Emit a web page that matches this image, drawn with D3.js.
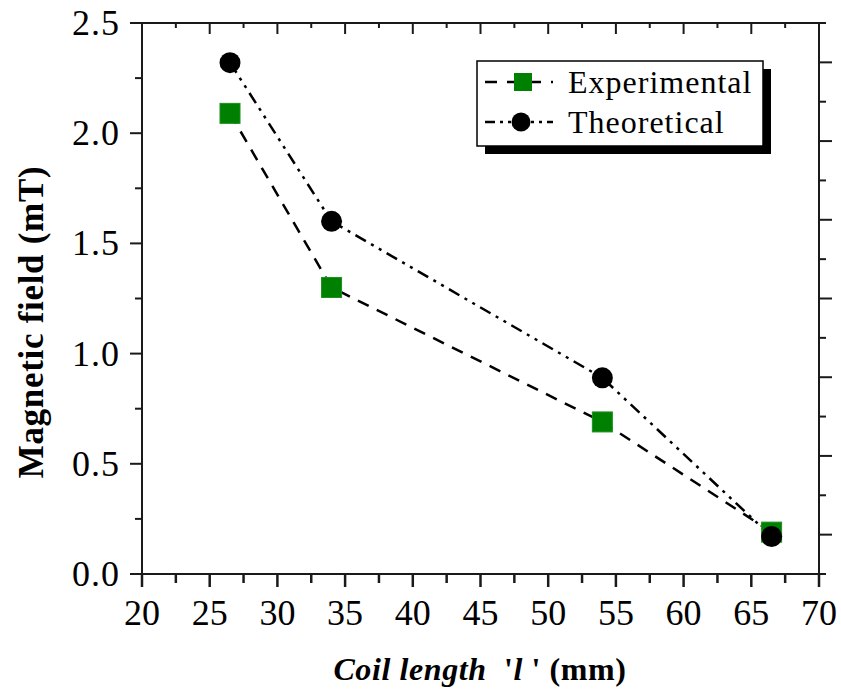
<!DOCTYPE html>
<html>
<head>
<meta charset="utf-8">
<script src="https://cdn.jsdelivr.net/npm/d3@7/dist/d3.min.js"></script>
<style>
html,body{margin:0;padding:0;background:#fff;}
svg{display:block;}
text{font-family:"Liberation Serif","Times New Roman",serif;fill:#000;}
</style>
</head>
<body>
<svg id="chart" width="841" height="694"></svg>
<script>
// ---- data ----
const coilLength = [26.5, 34, 54, 66.5];
const experimental = [2.09, 1.30, 0.69, 0.19];
const theoretical = [2.32, 1.60, 0.89, 0.17];
const seriesNames = ["Experimental", "Theoretical"];
const xTicks = [20, 25, 30, 35, 40, 45, 50, 55, 60, 65, 70];
const yTicks = [0.0, 0.5, 1.0, 1.5, 2.0, 2.5];
const xLabelParts = ["Coil length", "  '", "l", " ' (mm)"];
const yLabel = "Magnetic field (mT)";

const svg = d3.select("#chart");
const L = 142, R = 819, T = 23, B = 574;
const x = d3.scaleLinear().domain([20, 70]).range([L, R]);
const y = d3.scaleLinear().domain([0, 2.5]).range([B, T]);
const yRight = d3.scaleLinear().domain([0, 14]).range([B, T]);

const axisColor = "#1a1a1a";

const xMinor = d3.range(22.5, 70, 5);
const yMinor = d3.range(0.25, 2.5, 0.5);

// ---- bottom axis ----
const gB = svg.append("g");
gB.selectAll("line.maj").data(xTicks).join("line")
  .attr("x1", d => x(d)).attr("x2", d => x(d))
  .attr("y1", B).attr("y2", B + 13)
  .attr("stroke", axisColor).attr("stroke-width", 2.5);
gB.selectAll("line.min").data(xMinor).join("line")
  .attr("x1", d => x(d)).attr("x2", d => x(d))
  .attr("y1", B).attr("y2", B + 9)
  .attr("stroke", axisColor).attr("stroke-width", 2.5);
gB.selectAll("text").data(xTicks).join("text")
  .attr("x", d => x(d)).attr("y", B + 51)
  .attr("text-anchor", "middle").attr("font-size", 36)
  .text(d => d);

// ---- top axis (inward) ----
const gT = svg.append("g");
gT.selectAll("line.maj").data(xTicks.slice(1, -1)).join("line")
  .attr("x1", d => x(d)).attr("x2", d => x(d))
  .attr("y1", T).attr("y2", T + 11)
  .attr("stroke", axisColor).attr("stroke-width", 2);
gT.selectAll("line.min").data(xMinor).join("line")
  .attr("x1", d => x(d)).attr("x2", d => x(d))
  .attr("y1", T).attr("y2", T + 5)
  .attr("stroke", axisColor).attr("stroke-width", 2);

// ---- left axis ----
const gL = svg.append("g");
gL.selectAll("line.maj").data(yTicks).join("line")
  .attr("x1", L - 12).attr("x2", L)
  .attr("y1", d => y(d)).attr("y2", d => y(d))
  .attr("stroke", axisColor).attr("stroke-width", 2);
gL.selectAll("line.min").data(yMinor).join("line")
  .attr("x1", L - 7).attr("x2", L)
  .attr("y1", d => y(d)).attr("y2", d => y(d))
  .attr("stroke", axisColor).attr("stroke-width", 2);
gL.selectAll("text").data(yTicks).join("text")
  .attr("x", L - 22).attr("y", d => y(d) + 12)
  .attr("text-anchor", "end").attr("font-size", 36)
  .attr("letter-spacing", 1)
  .text(d => d.toFixed(1));

// ---- right axis (outward, own scale) ----
const gR = svg.append("g");
gR.selectAll("line").data(d3.range(0, 15)).join("line")
  .attr("x1", R).attr("x2", d => R + (d % 2 === 1 ? 13 : 7))
  .attr("y1", d => yRight(d)).attr("y2", d => yRight(d))
  .attr("stroke", axisColor).attr("stroke-width", 2);

// ---- frame ----
svg.append("rect").attr("x", L).attr("y", T)
  .attr("width", R - L).attr("height", B - T)
  .attr("fill", "none").attr("stroke", axisColor).attr("stroke-width", 2);

// ---- lines ----
const lineGen = d3.line().x(d => x(d[0])).y(d => y(d[1]));
const expData = coilLength.map((c, i) => [c, experimental[i]]);
const thData = coilLength.map((c, i) => [c, theoretical[i]]);
const expDash = "12,9";
const thDash = "12,6,3,6,3,6";

svg.append("path").datum(expData).attr("d", lineGen)
  .attr("fill", "none").attr("stroke", "#000").attr("stroke-width", 2.5)
  .attr("stroke-dasharray", expDash);
svg.append("path").datum(thData).attr("d", lineGen)
  .attr("fill", "none").attr("stroke", "#000").attr("stroke-width", 2.5)
  .attr("stroke-dasharray", thDash);

// markers
const sq = 20;
svg.selectAll("rect.exp").data(expData).join("rect")
  .attr("x", d => x(d[0]) - sq / 2).attr("y", d => y(d[1]) - sq / 2)
  .attr("width", sq).attr("height", sq)
  .attr("fill", "#008000").attr("stroke", "#1f8f1f").attr("stroke-width", 1);
svg.selectAll("circle.th").data(thData).join("circle")
  .attr("cx", d => x(d[0])).attr("cy", d => y(d[1]))
  .attr("r", 10.5).attr("fill", "#000");

// ---- legend ----
const lgX = 477, lgY = 61, lgW = 286, lgH = 85;
svg.append("rect").attr("x", lgX + 8).attr("y", lgY + 8)
  .attr("width", lgW).attr("height", lgH).attr("fill", "#000");
svg.append("rect").attr("x", lgX).attr("y", lgY)
  .attr("width", lgW).attr("height", lgH)
  .attr("fill", "#fff").attr("stroke", "#000").attr("stroke-width", 1.5);

const rows = [
  {name: seriesNames[0], cy: 82, type: "square"},
  {name: seriesNames[1], cy: 122, type: "circle"}
];
rows.forEach(r => {
  svg.append("line").attr("x1", 485).attr("x2", 553)
    .attr("y1", r.cy).attr("y2", r.cy)
    .attr("stroke", "#000").attr("stroke-width", 2.5)
    .attr("stroke-dasharray", r.type === "square" ? "12,10" : "10,5,3,5,3,5");
  if (r.type === "square") {
    svg.append("rect").attr("x", 523 - 9).attr("y", r.cy - 9)
      .attr("width", 18).attr("height", 18)
      .attr("fill", "#008000");
  } else {
    svg.append("circle").attr("cx", 521).attr("cy", r.cy).attr("r", 9.5).attr("fill", "#000");
  }
  svg.append("text").attr("x", 568).attr("y", r.cy + 11)
    .attr("font-size", 32).attr("letter-spacing", 1).text(r.name);
});

// ---- axis titles ----
const xt = svg.append("text").attr("x", 480).attr("y", 680)
  .attr("text-anchor", "middle").attr("font-size", 32).attr("font-weight", "bold")
  .attr("letter-spacing", 0.6).style("white-space", "pre");
xt.append("tspan").attr("font-style", "italic").text(xLabelParts[0]);
xt.append("tspan").text(xLabelParts[1]);
xt.append("tspan").attr("font-style", "italic").text(xLabelParts[2]);
xt.append("tspan").text(xLabelParts[3]);

svg.append("text")
  .attr("transform", "translate(43,322) rotate(-90)")
  .attr("text-anchor", "middle").attr("font-size", 35).attr("font-weight", "bold")
  .attr("letter-spacing", 0.7)
  .text(yLabel);
</script>
</body>
</html>
